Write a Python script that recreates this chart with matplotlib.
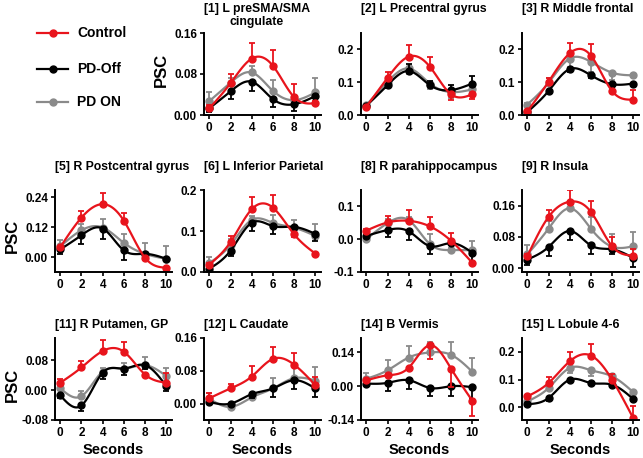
import numpy as np
import matplotlib
matplotlib.use("Agg")
import matplotlib.pyplot as plt

plt.rcParams['font.family'] = ['Liberation Sans', 'DejaVu Sans']
plt.rcParams['font.weight'] = 'bold'

seconds = [0, 2, 4, 6, 8, 10]

titles = ["[1] L preSMA/SMA\ncingulate", "[2] L Precentral gyrus", "[3] R Middle frontal",
          "[5] R Postcentral gyrus", "[6] L Inferior Parietal", "[8] R parahippocampus", "[9] R Insula",
          "[11] R Putamen, GP", "[12] L Caudate", "[14] B Vermis", "[15] L Lobule 4-6"]

y_ticks = [[0, 0.08, 0.16], [0, 0.1, 0.2], [0, 0.1, 0.2],
           [0, 0.12, 0.24], [0, 0.1, 0.2], [-0.1, 0, 0.1], [0, 0.08, 0.16],
           [-0.08, 0, 0.08], [0, 0.08, 0.16], [-0.14, 0, 0.14], [0, 0.1, 0.2]]
y_labels = [["0.00", "0.08", "0.16"], ["0.0", "0.1", "0.2"], ["0.0", "0.1", "0.2"],
            ["0.00", "0.12", "0.24"], ["0.0", "0.1", "0.2"], ["-0.1", "0.0", "0.1"], ["0.00", "0.08", "0.16"],
            ["-0.08", "0.00", "0.08"], ["0.00", "0.08", "0.16"], ["-0.14", "0.00", "0.14"], ["0.0", "0.1", "0.2"]]
y_lims = [(0, 0.16), (0, 0.25), (0, 0.25),
          (-0.06, 0.27), (0, 0.2), (-0.1, 0.15), (-0.01, 0.2),
          (-0.08, 0.14), (-0.04, 0.16), (-0.14, 0.2), (-0.045, 0.25)]

# percent signal change per region, one row per panel
control = [[0.013, 0.062, 0.110, 0.096, 0.035, 0.023],
           [0.025, 0.113, 0.178, 0.147, 0.063, 0.063],
           [0.011, 0.101, 0.188, 0.181, 0.073, 0.047],
           [0.040, 0.159, 0.213, 0.146, -0.003, -0.043],
           [0.018, 0.073, 0.153, 0.157, 0.092, 0.045],
           [0.026, 0.051, 0.056, 0.039, -0.005, -0.072],
           [0.030, 0.131, 0.170, 0.144, 0.056, 0.032],
           [0.020, 0.061, 0.105, 0.103, 0.042, 0.020],
           [0.013, 0.037, 0.066, 0.109, 0.095, 0.045],
           [0.024, 0.045, 0.077, 0.170, 0.073, -0.060],
           [0.040, 0.088, 0.166, 0.187, 0.100, -0.039]]
# signed error: + drawn above the point, - drawn below
control_err = [[0.006, 0.018, 0.030, 0.030, 0.026, 0.004],
               [-0.005, 0.018, 0.035, 0.030, -0.018, -0.014],
               [0.004, 0.012, 0.030, 0.035, -0.005, 0.030],
               [0.005, 0.026, 0.043, 0.032, -0.010, -0.005],
               [0.004, 0.016, 0.029, 0.031, -0.006, 0.003],
               [0.006, 0.020, 0.033, 0.028, 0.025, -0.004],
               [0.005, 0.019, 0.029, 0.027, 0.024, 0.018],
               [0.011, 0.018, 0.030, 0.027, 0.003, 0.027],
               [0.014, 0.011, 0.025, 0.028, 0.028, 0.020],
               [0.005, 0.004, 0.004, -0.055, -0.077, -0.063],
               [0.005, 0.020, 0.033, 0.042, 0.020, 0.045]]

pd_off = [[0.013, 0.046, 0.065, 0.031, 0.021, 0.037],
          [0.028, 0.091, 0.134, 0.091, 0.076, 0.096],
          [0.009, 0.073, 0.140, 0.121, 0.094, 0.096],
          [0.031, 0.088, 0.115, 0.027, 0.013, -0.007],
          [0.008, 0.052, 0.120, 0.112, 0.110, 0.093],
          [0.010, 0.028, 0.024, -0.021, -0.012, -0.041],
          [0.022, 0.054, 0.095, 0.058, 0.048, 0.026],
          [-0.014, -0.041, 0.047, 0.058, 0.067, 0.011],
          [0.004, 0.000, 0.023, 0.037, 0.057, 0.037],
          [0.011, 0.014, 0.025, -0.007, 0.000, -0.004],
          [0.012, 0.034, 0.100, 0.088, 0.082, 0.030]]
pd_off_err = [[-0.008, -0.015, -0.019, -0.016, -0.014, -0.013],
              [-0.005, -0.008, 0.020, 0.012, 0.015, 0.022],
              [-0.008, -0.006, -0.008, -0.007, -0.008, -0.006],
              [-0.018, -0.034, -0.041, -0.038, -0.010, -0.010],
              [-0.007, -0.012, -0.020, -0.020, -0.008, -0.018],
              [-0.006, -0.022, -0.025, -0.023, -0.006, -0.024],
              [-0.013, -0.024, -0.024, -0.023, -0.013, -0.022],
              [-0.006, -0.016, -0.018, -0.018, -0.010, -0.012],
              [-0.005, -0.006, -0.010, -0.020, -0.022, -0.020],
              [-0.012, -0.035, -0.036, -0.032, -0.039, -0.050],
              [-0.006, -0.012, -0.008, -0.008, -0.006, -0.008]]

pd_on = [[0.027, 0.063, 0.083, 0.047, 0.029, 0.044],
         [0.030, 0.101, 0.142, 0.096, 0.070, 0.078],
         [0.032, 0.098, 0.172, 0.162, 0.129, 0.121],
         [0.043, 0.108, 0.119, 0.057, 0.013, -0.007],
         [0.022, 0.066, 0.127, 0.120, 0.108, 0.088],
         [0.000, 0.049, 0.058, -0.015, -0.033, -0.034],
         [0.035, 0.101, 0.153, 0.101, 0.055, 0.056],
         [0.005, -0.016, 0.050, 0.058, 0.067, 0.038],
         [0.012, -0.008, 0.015, 0.037, 0.062, 0.056],
         [0.031, 0.066, 0.119, 0.140, 0.130, 0.060],
         [0.022, 0.070, 0.142, 0.134, 0.112, 0.055]]
pd_on_err = [[0.017, 0.010, 0.013, 0.021, 0.010, 0.028],
             [0.004, 0.008, -0.018, -0.018, -0.018, -0.008],
             [0.004, 0.015, -0.025, -0.030, -0.022, 0.005],
             [0.024, 0.027, 0.036, 0.037, 0.045, 0.051],
             [0.014, 0.015, 0.010, 0.020, 0.020, 0.028],
             [0.006, 0.012, 0.010, 0.030, 0.006, 0.029],
             [0.024, 0.020, 0.016, 0.029, 0.032, 0.037],
             [0.005, 0.015, 0.010, 0.016, 0.023, 0.022],
             [0.015, 0.010, 0.010, 0.025, 0.030, 0.034],
             [0.025, 0.042, 0.049, 0.045, 0.052, 0.059],
             [0.006, 0.018, -0.018, -0.020, 0.006, 0.005]]

RED = '#e8141c'
BLACK = '#000000'
GRAY = '#8a8a8a'


def smooth(x, y, n=120):
    # natural cubic spline through the points (drawing only)
    x = np.asarray(x, float)
    y = np.asarray(y, float)
    k = len(x)
    h = np.diff(x)
    A = np.zeros((k, k))
    r = np.zeros(k)
    A[0, 0] = A[-1, -1] = 1
    for i in range(1, k - 1):
        A[i, i - 1] = h[i - 1]
        A[i, i] = 2 * (h[i - 1] + h[i])
        A[i, i + 1] = h[i]
        r[i] = 6 * ((y[i + 1] - y[i]) / h[i] - (y[i] - y[i - 1]) / h[i - 1])
    M = np.linalg.solve(A, r)
    xs = np.linspace(x[0], x[-1], n)
    idx = np.clip(np.searchsorted(x, xs) - 1, 0, k - 2)
    x0, x1 = x[idx], x[idx + 1]
    hh = x1 - x0
    a = (x1 - xs) / hh
    b = (xs - x0) / hh
    ys = a * y[idx] + b * y[idx + 1] + ((a ** 3 - a) * M[idx] + (b ** 3 - b) * M[idx + 1]) * hh ** 2 / 6
    return xs, ys


W, H = 643, 458
fig = plt.figure(figsize=(W / 100, H / 100), dpi=100)

col_left = [55, 204, 361, 522]
row_top = [33, 190, 338]
ax_w = 116.6
ax_h = 82
cells = [(0, 1), (0, 2), (0, 3),
         (1, 0), (1, 1), (1, 2), (1, 3),
         (2, 0), (2, 1), (2, 2), (2, 3)]
title_top = [3, 161, 319]

for p, (r, c) in enumerate(cells):
    left = col_left[c]
    top = row_top[r]
    ax = fig.add_axes([left / W, 1 - (top + ax_h) / H, ax_w / W, ax_h / H])
    for vals, errs, col in [(pd_on[p], pd_on_err[p], GRAY),
                            (pd_off[p], pd_off_err[p], BLACK),
                            (control[p], control_err[p], RED)]:
        e = np.array(errs)
        lo = np.where(e < 0, -e, 0)
        hi = np.where(e > 0, e, 0)
        ax.errorbar(seconds, vals, yerr=[lo, hi], fmt='none', ecolor=col,
                    elinewidth=1.3, capsize=2, capthick=1.3)
        xs, ys = smooth(seconds, vals)
        ax.plot(xs, ys, color=col, lw=1.6)
        ax.plot(seconds, vals, 'o', color=col, ms=5)
    ax.set_xlim(-0.5, 10.5)
    ax.set_ylim(*y_lims[p])
    ax.set_xticks(seconds)
    ax.set_xticklabels([str(s) for s in seconds], fontsize=8.5, fontweight='bold')
    ax.set_yticks(y_ticks[p])
    ax.set_yticklabels(y_labels[p], fontsize=8.5, fontweight='bold')
    for s in ['top', 'right']:
        ax.spines[s].set_visible(False)
    for s in ['left', 'bottom']:
        ax.spines[s].set_linewidth(1.4)
    ax.tick_params(direction='out', length=3, width=1.2, pad=2)
    ax.set_facecolor('none')

    fig.text(left / W, 1 - title_top[r] / H, titles[p], ha='left', va='top',
             multialignment='center', fontsize=8.8, fontweight='bold', linespacing=1.1)
    if r == 2:
        fig.text((left + 5.3 + 53) / W, 1 - 450 / H, "Seconds", ha='center', va='center',
                 fontsize=10.5, fontweight='bold')

# PSC labels
fig.text(161 / W, 1 - 70 / H, "PSC", rotation=90, ha='center', va='center', fontsize=12, fontweight='bold')
fig.text(12 / W, 1 - 236 / H, "PSC", rotation=90, ha='center', va='center', fontsize=12, fontweight='bold')
fig.text(12 / W, 1 - 385 / H, "PSC", rotation=90, ha='center', va='center', fontsize=12, fontweight='bold')

# legend in the empty top-left cell
leg_ax = fig.add_axes([0, 0, 1, 1])
leg_ax.set_xlim(0, W)
leg_ax.set_ylim(H, 0)
leg_ax.axis('off')
for name, col, yy in [("Control", RED, 33), ("PD-Off", BLACK, 69), ("PD ON", GRAY, 102)]:
    leg_ax.plot([37, 68], [yy, yy], color=col, lw=1.6)
    leg_ax.plot([53], [yy], 'o', color=col, ms=5)
    leg_ax.text(77, yy, name, ha='left', va='center', fontsize=10, fontweight='bold')

fig.savefig('out.png', dpi=100)
